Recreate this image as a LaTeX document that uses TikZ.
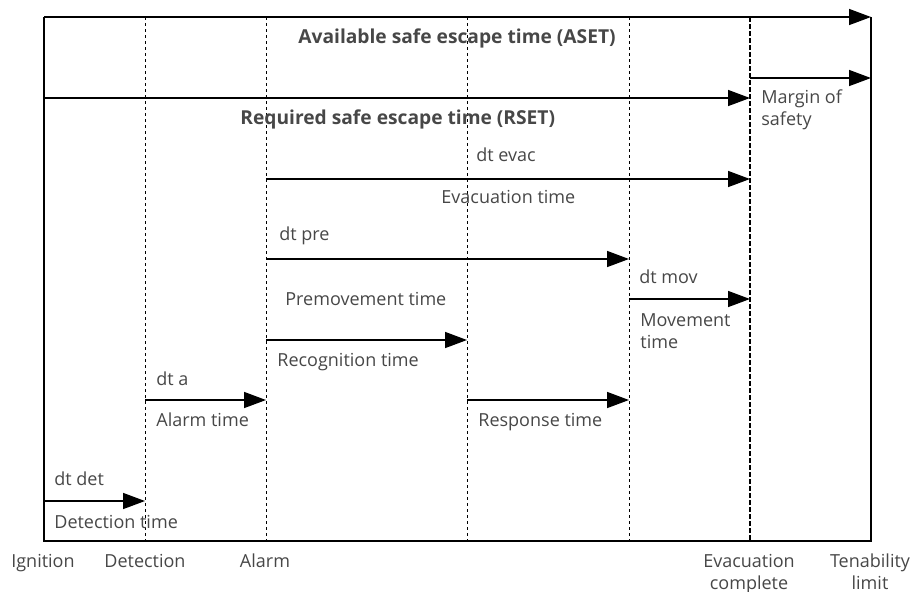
\documentclass[tikz,border=0pt]{standalone}
\usepackage{fontspec}
\setmainfont{Open Sans}
\usepackage{tikz}
\usetikzlibrary{
    arrows.meta,
    positioning
}
\definecolor{txt}{HTML}{474747}
\tikzset{
    tarr/.style={line width=0.75pt,-{Triangle[length=11pt,width=8pt]}},
    tick/.style={line width=0.5pt,dash pattern=on 1.5pt off 1.5pt},
    lbl/.style={anchor=base west,inner sep=0pt,text=txt,align=left,font=\fontsize{9}{11}\selectfont},
    axl/.style={anchor=base,inner sep=0pt,text=txt,align=center,font=\fontsize{9}{11}\selectfont},
    ttl/.style={lbl,font=\fontsize{9.6}{11}\selectfont\bfseries}
}

\begin{document}
\begin{tikzpicture}[x=0.5pt,y=-0.5pt]
        \useasboundingbox (0,0) rectangle (912,591);
        \coordinate (ig) at (44,17);
        \coordinate (de) at (145,17);
        \coordinate (al) at (266,17);
        \coordinate (re) at (467,17);
        \coordinate (mv) at (629,17);
        \coordinate (ev) at (750,17);
        \coordinate (te) at (871,17);
        \coordinate (bot) at (0,541);
        % rows of the arrows
        \coordinate (rms) at (0,78);
        \coordinate (rrs) at (0,98);
        \coordinate (rev) at (0,179);
        \coordinate (rpr) at (0,259);
        \coordinate (rmo) at (0,299);
        \coordinate (rrc) at (0,340);
        \coordinate (ral) at (0,400);
        \coordinate (rde) at (0,501);

        \foreach \t in {de,al,re,mv} \draw[tick] (\t) -- (\t |- bot);
        \draw[line width=1pt,dash pattern=on 2.5pt off 1pt] (ev) -- (ev |- bot);
        \draw[line width=0.8pt] (ig) -- (ig |- bot) -- (te |- bot) -- (te);

        \draw[tarr] (ig) -- (te);
        \draw[tarr] (ev |- rms) -- (te |- rms);
        \draw[tarr] (ig |- rrs) -- (ev |- rrs);
        \draw[tarr] (al |- rev) -- (ev |- rev);
        \draw[tarr] (al |- rpr) -- (mv |- rpr);
        \draw[tarr] (mv |- rmo) -- (ev |- rmo);
        \draw[tarr] (al |- rrc) -- (re |- rrc);
        \draw[tarr] (de |- ral) -- (al |- ral);
        \draw[tarr] (re |- ral) -- (mv |- ral);
        \draw[tarr] (ig |- rde) -- (de |- rde);

        \draw (298,43) node[ttl](aset){Available safe escape time (ASET)};
        \draw (240,124) node[ttl](rset){Required safe escape time (RSET)};
        \draw (761,125) node[lbl](mos){Margin of\\safety};
        \draw (476,161) node[lbl](dev){dt evac};
        \draw (441,203) node[lbl](tev){Evacuation time};
        \draw (279,240) node[lbl](dpr){dt pre};
        \draw (285,305) node[lbl](tpr){Premovement time};
        \draw (639,283) node[lbl](dmo){dt mov};
        \draw (640,348) node[lbl](tmo){Movement\\time};
        \draw (277,366) node[lbl](trc){Recognition time};
        \draw (156,385) node[lbl](dal){dt a};
        \draw (156,426) node[lbl](tal){Alarm time};
        \draw (478,426) node[lbl](trs){Response time};
        \draw (54,485) node[lbl](dde){dt det};
        \draw (54,528) node[lbl](tde){Detection time};

        \draw (43,567) node[axl](xig){Ignition};
        \draw (145,567) node[axl](xde){Detection};
        \draw (265,567) node[axl](xal){Alarm};
        \draw (749,589) node[axl](xev){Evacuation\\complete};
        \draw (870,589) node[axl](xte){Tenability\\limit};
    \end{tikzpicture}
\end{document}
